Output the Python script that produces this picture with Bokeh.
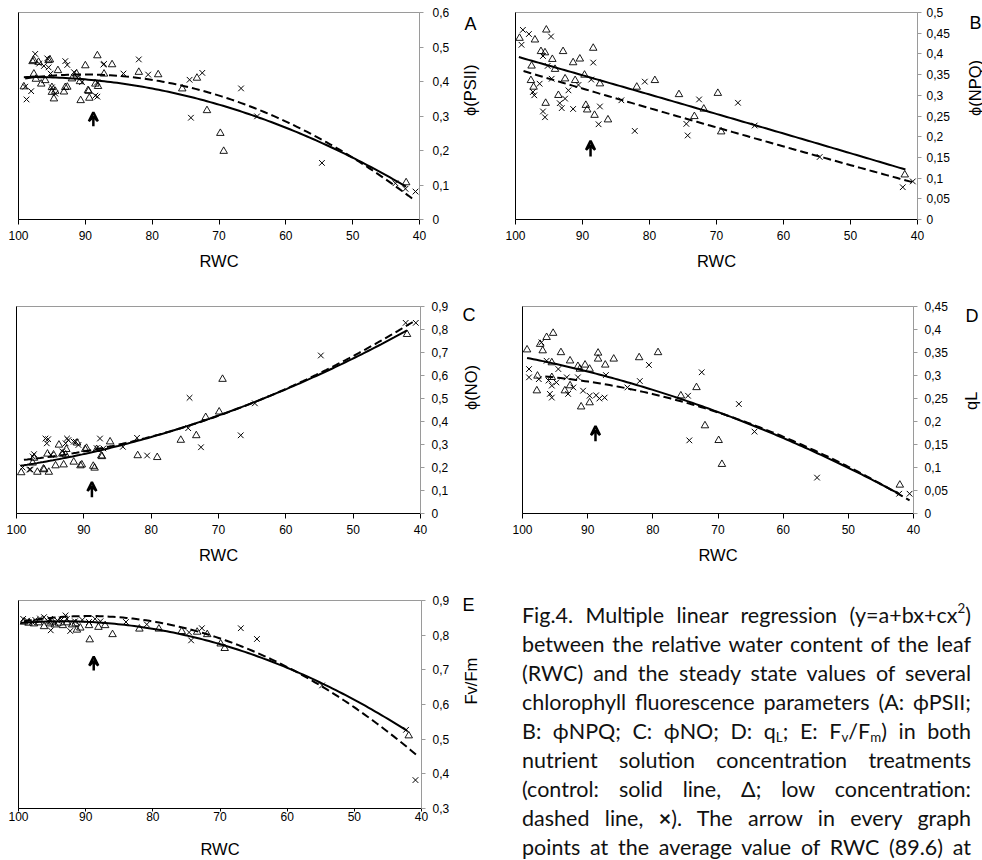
import numpy as np
from bokeh.plotting import figure
from bokeh.models import (Range1d, LinearAxis, FixedTicker, CustomJSTickFormatter,
                          Arrow, VeeHead, Div)
from bokeh.layouts import row, column
from bokeh.embed import file_html
from bokeh.resources import INLINE

# ---------------- data ----------------
rwc_ticks = [100, 90, 80, 70, 60, 50, 40]
arrow_rwc = 88.8

# Panel A: phi(PSII)
a_ctrl_rwc = [99.2, 97.9, 97.7, 97.7, 97.4, 97.0, 96.6, 96.0, 95.5, 95.3, 95.0, 95.0, 94.7, 94.5, 94.1,
              93.2, 93.0, 92.7, 92.0, 91.3, 90.8, 90.7, 90.0, 89.6, 89.5, 89.4, 88.5, 88.2, 88.1, 87.2,
              86.0, 82.0, 79.1, 75.5, 73.3, 71.8, 69.8, 69.3, 42.0]
a_ctrl_val = [0.385, 0.458, 0.461, 0.422, 0.407, 0.456, 0.393, 0.403, 0.461, 0.463, 0.369, 0.383, 0.350,
              0.372, 0.432, 0.370, 0.383, 0.384, 0.408, 0.422, 0.400, 0.345, 0.446, 0.374, 0.372, 0.352,
              0.393, 0.475, 0.386, 0.422, 0.449, 0.427, 0.420, 0.379, 0.410, 0.316, 0.250, 0.198, 0.107]
a_low_rwc = [99.0, 98.8, 98.1, 97.5, 96.9, 96.2, 95.7, 95.5, 95.2, 95.0, 94.5, 93.0, 92.7, 91.7, 91.2,
             90.5, 88.5, 88.2, 88.2, 87.3, 87.2, 84.3, 82.0, 80.6, 74.4, 74.2, 72.5, 66.7, 64.3, 54.6,
             43.6, 42.1, 40.6]
a_low_val = [0.385, 0.348, 0.372, 0.480, 0.452, 0.445, 0.467, 0.441, 0.423, 0.383, 0.365, 0.459, 0.448,
             0.427, 0.412, 0.398, 0.359, 0.356, 0.398, 0.449, 0.451, 0.423, 0.464, 0.420, 0.405, 0.295,
             0.425, 0.380, 0.299, 0.164, 0.105, 0.089, 0.081]
a_ctrl_fit_rwc = [99.2, 88, 80, 64.3, 54.6, 42]
a_ctrl_fit_val = [0.414, 0.400, 0.380, 0.297, 0.224, 0.094]
a_low_fit_rwc = [99, 87, 80, 70, 60, 50, 40.7]
a_low_fit_val = [0.406, 0.422, 0.408, 0.360, 0.277, 0.180, 0.057]
a_ticks = [0, 0.1, 0.2, 0.3, 0.4, 0.5, 0.6]

# Panel B: phi(NPQ)
b_ctrl_rwc = [99.4, 97.1, 95.4, 96.2, 95.6, 94.5, 92.9, 91.4, 90.4, 88.4, 97.6, 97.7, 97.3, 94.1, 93.6,
              92.6, 91.1, 89.7, 89.5, 89.3, 95.5, 87.4, 88.2, 86.2, 81.9, 79.2, 75.6, 73.3, 71.9, 69.8,
              69.3, 41.9]
b_ctrl_val = [0.438, 0.434, 0.458, 0.406, 0.403, 0.387, 0.406, 0.379, 0.388, 0.414, 0.371, 0.336, 0.320,
              0.363, 0.300, 0.340, 0.336, 0.349, 0.276, 0.265, 0.281, 0.328, 0.252, 0.241, 0.320, 0.336,
              0.302, 0.249, 0.267, 0.305, 0.212, 0.108]
b_low_rwc = [98.9, 98.0, 99.1, 94.7, 95.9, 95.2, 94.6, 96.4, 97.4, 97.2, 95.9, 95.6, 93.4, 93.1, 92.6,
             92.1, 91.4, 90.6, 88.7, 88.4, 87.4, 87.6, 84.2, 82.2, 80.7, 74.5, 74.3, 72.6, 66.8, 64.3,
             54.6, 42.2, 40.7]
b_low_val = [0.458, 0.448, 0.422, 0.442, 0.395, 0.371, 0.340, 0.328, 0.308, 0.300, 0.261, 0.247, 0.281,
             0.269, 0.292, 0.312, 0.267, 0.325, 0.338, 0.379, 0.273, 0.230, 0.288, 0.214, 0.333, 0.231,
             0.203, 0.290, 0.282, 0.227, 0.151, 0.078, 0.092]
b_ctrl_fit_rwc = [99.5, 80, 64.3, 41.8]
b_ctrl_fit_val = [0.392, 0.303, 0.227, 0.121]
b_low_fit_rwc = [98.8, 83.9, 64.3, 54.6, 40.7]
b_low_fit_val = [0.359, 0.286, 0.198, 0.151, 0.090]
b_ticks = [0, 0.05, 0.1, 0.15, 0.2, 0.25, 0.3, 0.35, 0.4, 0.45, 0.5]

# Panel C: phi(NO)
c_ctrl_rwc = [99.3, 97.6, 97.4, 96.9, 96.0, 95.9, 95.4, 95.2, 94.5, 94.2, 93.7, 93.2, 93.0, 92.7, 92.6,
              91.5, 91.0, 90.5, 90.3, 89.8, 89.6, 88.6, 88.4, 88.1, 87.4, 87.3, 86.1, 82.0, 79.1, 75.6,
              73.3, 71.9, 69.9, 69.4, 42.0]
c_ctrl_val = [0.178, 0.220, 0.241, 0.180, 0.194, 0.191, 0.259, 0.180, 0.255, 0.208, 0.298, 0.259, 0.212,
              0.255, 0.279, 0.224, 0.307, 0.208, 0.212, 0.279, 0.284, 0.206, 0.198, 0.279, 0.251, 0.248,
              0.312, 0.252, 0.244, 0.319, 0.339, 0.418, 0.442, 0.584, 0.779]
c_low_rwc = [99.1, 98.1, 97.9, 97.6, 97.4, 95.7, 95.5, 95.3, 94.9, 93.2, 92.7, 92.5, 92.3, 91.5, 91.2,
             90.8, 88.1, 87.6, 87.1, 84.2, 82.1, 80.6, 74.5, 74.3, 72.6, 66.7, 64.6, 54.8, 42.2, 40.7]
c_low_val = [0.200, 0.191, 0.191, 0.248, 0.258, 0.326, 0.305, 0.323, 0.255, 0.270, 0.305, 0.326, 0.319,
             0.312, 0.312, 0.298, 0.284, 0.326, 0.283, 0.290, 0.329, 0.252, 0.371, 0.503, 0.288, 0.340,
             0.479, 0.687, 0.829, 0.829]
c_ctrl_fit_rwc = [99.4, 90, 80, 70, 60, 50, 42]
c_ctrl_fit_val = [0.206, 0.262, 0.330, 0.428, 0.539, 0.673, 0.797]
c_low_fit_rwc = [98.9, 90, 80, 70, 60, 50, 40.9]
c_low_fit_val = [0.232, 0.272, 0.333, 0.428, 0.541, 0.680, 0.840]
c_ticks = [0, 0.1, 0.2, 0.3, 0.4, 0.5, 0.6, 0.7, 0.8, 0.9]

# Panel D: qL
d_ctrl_rwc = [99.3, 96.3, 95.3, 97.3, 96.9, 94.1, 97.8, 95.5, 92.7, 91.5, 90.4, 89.7, 88.4, 88.4, 87.3,
              86.0, 82.1, 79.2, 91.0, 89.7, 95.5, 93.5, 92.7, 91.2, 97.7, 75.7, 73.3, 72.0, 69.9, 69.4,
              42.1]
d_ctrl_val = [0.356, 0.383, 0.392, 0.368, 0.354, 0.350, 0.267, 0.328, 0.332, 0.320, 0.323, 0.314, 0.349,
              0.336, 0.323, 0.336, 0.339, 0.350, 0.232, 0.241, 0.296, 0.267, 0.278, 0.314, 0.299, 0.256,
              0.274, 0.191, 0.159, 0.107, 0.062]
d_low_rwc = [99.0, 99.0, 97.5, 97.1, 96.3, 96.0, 95.5, 95.8, 95.5, 94.8, 94.5, 93.2, 93.0, 92.2, 91.5,
             90.7, 89.7, 88.7, 88.2, 87.4, 87.2, 83.9, 82.0, 80.6, 74.6, 74.4, 72.5, 66.8, 64.4, 54.8,
             42.2, 40.6]
d_low_val = [0.314, 0.296, 0.292, 0.372, 0.332, 0.289, 0.278, 0.260, 0.252, 0.285, 0.314, 0.296, 0.260,
             0.274, 0.296, 0.267, 0.256, 0.257, 0.250, 0.252, 0.301, 0.274, 0.288, 0.323, 0.256, 0.159,
             0.307, 0.238, 0.178, 0.078, 0.043, 0.043]
d_ctrl_fit_rwc = [99.3, 90, 80, 70, 60, 50, 42.2]
d_ctrl_fit_val = [0.337, 0.310, 0.270, 0.220, 0.162, 0.100, 0.043]
d_low_fit_rwc = [96.5, 90, 80, 70, 60, 50, 40.6]
d_low_fit_val = [0.297, 0.288, 0.259, 0.222, 0.163, 0.104, 0.028]
d_ticks = [0, 0.05, 0.1, 0.15, 0.2, 0.25, 0.3, 0.35, 0.4, 0.45]

# Panel E: Fv/Fm
e_ctrl_rwc = [99.2, 98.5, 97.7, 97.0, 96.2, 95.3, 95.0, 94.6, 94.0, 93.4, 92.8, 92.0, 91.5, 91.3, 90.8,
              89.5, 89.4, 88.1, 87.1, 86.0, 82.0, 79.1, 75.7, 73.4, 71.9, 69.9, 69.3, 41.9]
e_ctrl_val = [0.838, 0.835, 0.833, 0.836, 0.825, 0.833, 0.838, 0.830, 0.835, 0.828, 0.836, 0.830, 0.833,
              0.815, 0.821, 0.828, 0.787, 0.823, 0.828, 0.802, 0.818, 0.818, 0.811, 0.809, 0.802, 0.775,
              0.762, 0.510]
e_low_rwc = [99.3, 98.7, 98.0, 97.5, 96.8, 96.2, 95.6, 95.3, 95.2, 94.2, 93.6, 93.0, 92.8, 92.3, 91.6,
             90.5, 89.5, 88.6, 87.8, 84.0, 80.9, 74.6, 74.3, 72.7, 66.9, 64.5, 54.8, 42.3, 40.9]
e_low_val = [0.847, 0.842, 0.838, 0.844, 0.848, 0.852, 0.840, 0.847, 0.814, 0.842, 0.845, 0.857, 0.847,
             0.812, 0.840, 0.844, 0.838, 0.847, 0.840, 0.838, 0.831, 0.808, 0.785, 0.820, 0.820, 0.789,
             0.655, 0.527, 0.382]
e_ctrl_fit_rwc = [99.7, 90, 80, 70, 60, 50, 42.1]
e_ctrl_fit_val = [0.838, 0.835, 0.818, 0.770, 0.712, 0.616, 0.520]
e_low_fit_rwc = [99.2, 85, 80, 70, 60, 50, 40.7]
e_low_fit_val = [0.842, 0.847, 0.840, 0.790, 0.712, 0.592, 0.452]
e_ticks = [0.3, 0.4, 0.5, 0.6, 0.7, 0.8, 0.9]

caption_lines = [
    "Fig.4. Multiple linear regression (y=a+bx+cx<sup>2</sup>)",
    "between the relative water content of the leaf",
    "(RWC) and the steady state values of several",
    "chlorophyll fluorescence parameters (A: \u03d5PSII;",
    "B: \u03d5NPQ; C: \u03d5NO; D: q<sub>L</sub>; E: F<sub>v</sub>/F<sub>m</sub>) in both",
    "nutrient solution concentration treatments",
    "(control: solid line, \u0394; low concentration:",
    "dashed line, <b>\u00d7</b>). The arrow in every graph",
    "points at the average value of RWC (89.6) at",
]

# ---------------- drawing ----------------
FONT = "Liberation Sans"
fmt = CustomJSTickFormatter(code="return (Math.round(tick*100)/100).toString().replace('.', ',');")


def text_axis(tick, text, standoff, size, orientation):
    """A line-less right axis carrying one labelled tick (used for titles / panel letters)."""
    f = CustomJSTickFormatter(args=dict(t=text), code="return t;")
    return LinearAxis(ticker=FixedTicker(ticks=[tick]), formatter=f,
                      axis_line_color=None, major_tick_line_color=None, minor_tick_line_color=None,
                      major_tick_out=0, major_tick_in=0, major_label_standoff=standoff,
                      major_label_text_font=FONT, major_label_text_font_size=size,
                      major_label_text_color="black", major_label_orientation=orientation)


def panel(cfg):
    p = figure(width=cfg["w"], height=cfg["h"],
               x_range=Range1d(100, 40), y_range=Range1d(*cfg["yr"]),
               output_backend="svg", toolbar_location=None,
               x_axis_location="below", y_axis_location="right",
               min_border_left=cfg["bl"], min_border_right=cfg["br"],
               min_border_top=cfg["bt"], min_border_bottom=cfg["bb"])
    p.grid.visible = False
    p.outline_line_color = "#9a9a9a"
    p.outline_line_width = 1
    p.background_fill_color = "white"
    p.border_fill_color = "white"

    # bottom axis
    xa = p.xaxis[0]
    xa.ticker = FixedTicker(ticks=rwc_ticks)
    xa.axis_label = "RWC"
    xa.axis_label_text_font = FONT
    xa.axis_label_text_font_size = "16.5px"
    xa.axis_label_text_font_style = "normal"
    xa.axis_label_text_color = "black"
    xa.axis_label_standoff = cfg["xls"]
    xa.major_label_text_font = FONT
    xa.major_label_text_font_size = "12px"
    xa.major_label_text_color = "black"
    xa.major_label_standoff = cfg["xms"]
    xa.major_tick_out = cfg["xto"]
    xa.major_tick_in = 0
    xa.minor_tick_line_color = None
    xa.axis_line_color = "black"
    xa.major_tick_line_color = "black"

    # right value axis (ticks + labels)
    ya = p.yaxis[0]
    ya.ticker = FixedTicker(ticks=cfg["yt"])
    ya.formatter = fmt
    ya.major_label_text_font = FONT
    ya.major_label_text_font_size = "12px"
    ya.major_label_text_color = "black"
    ya.major_label_standoff = cfg["yms"]
    ya.major_tick_out = 4
    ya.major_tick_in = 0
    ya.minor_tick_line_color = None
    ya.axis_line_color = "#9a9a9a"
    ya.major_tick_line_color = "#9a9a9a"

    # y title (reads bottom-to-top) and panel letter
    y0, y1 = cfg["yr"]
    p.add_layout(text_axis((y0 + y1) / 2, cfg["ylab"], cfg["yls"], "16.5px", np.pi / 2), "right")
    p.add_layout(text_axis(cfg["let_y"], cfg["letter"], cfg["lets"], "18px", "horizontal"), "right")

    # left frame line (black)
    la = LinearAxis(ticker=FixedTicker(ticks=[]), major_tick_out=0, major_tick_in=0,
                    minor_tick_line_color=None, major_label_text_font_size="0px",
                    axis_line_color="black")
    p.add_layout(la, "left")

    # fitted curves (quadratic regression y=a+bx+cx^2)
    for fx, fy, dash in ((cfg["cfx"], cfg["cfy"], "solid"), (cfg["lfx"], cfg["lfy"], "8 4")):
        coef = np.polyfit(fx, fy, 2)
        xs = np.linspace(max(fx), min(fx), 120)
        p.line(xs, np.polyval(coef, xs), line_color="black", line_width=2, line_dash=dash)

    p.scatter(cfg["cx"], cfg["cy"], marker="triangle", size=7.5, fill_color=None,
              line_color="black", line_width=0.9)
    p.scatter(cfg["lx"], cfg["ly"], marker="x", size=8, line_color="black", line_width=1)

    p.add_layout(Arrow(end=VeeHead(size=9, line_width=2.5, line_color="black", fill_color=None),
                       x_start=arrow_rwc, y_start=cfg["arr"][0], x_end=arrow_rwc, y_end=cfg["arr"][1],
                       line_width=2.5, line_color="black"))
    return p


pA = panel(dict(w=491, h=290, yr=(0, 0.6), bl=18, br=72, bt=12, bb=71, yt=a_ticks, ylab="\u03d5(PSII)",
                xls=9, xms=6, xto=5, yls=17, yms=9,
                cx=a_ctrl_rwc, cy=a_ctrl_val, lx=a_low_rwc, ly=a_low_val,
                cfx=a_ctrl_fit_rwc, cfy=a_ctrl_fit_val, lfx=a_low_fit_rwc, lfy=a_low_fit_val,
                arr=(0.27, 0.311), let_y=0.568, lets=-26, letter="A"))
# right-column panels reach a little past the window edge (the page clips them there)
pB = panel(dict(w=504, h=290, yr=(0, 0.5), bl=24, br=77, bt=12, bb=66, yt=b_ticks, ylab="\u03d5(NPQ)",
                xls=9, xms=6, xto=5, yls=22, yms=5,
                cx=b_ctrl_rwc, cy=b_ctrl_val, lx=b_low_rwc, ly=b_low_val,
                cfx=b_ctrl_fit_rwc, cfy=b_ctrl_fit_val, lfx=b_low_fit_rwc, lfy=b_low_fit_val,
                arr=(0.152, 0.19), let_y=0.474, lets=-26, letter="B"))
pC = panel(dict(w=491, h=290, yr=(0, 0.9), bl=16, br=67, bt=15, bb=63, yt=c_ticks, ylab="\u03d5(NO)",
                xls=9, xms=6, xto=5, yls=19, yms=7,
                cx=c_ctrl_rwc, cy=c_ctrl_val, lx=c_low_rwc, ly=c_low_val,
                cfx=c_ctrl_fit_rwc, cfy=c_ctrl_fit_val, lfx=c_low_fit_rwc, lfy=c_low_fit_val,
                arr=(0.071, 0.137), let_y=0.862, lets=-29, letter="C"))
pD = panel(dict(w=500, h=290, yr=(0, 0.45), bl=31, br=74, bt=16, bb=67, yt=d_ticks, ylab="qL",
                xls=9, xms=6, xto=5, yls=20, yms=7,
                cx=d_ctrl_rwc, cy=d_ctrl_val, lx=d_low_rwc, ly=d_low_val,
                cfx=d_ctrl_fit_rwc, cfy=d_ctrl_fit_val, lfx=d_low_fit_rwc, lfy=d_low_fit_val,
                arr=(0.157, 0.19), let_y=0.43, lets=-26, letter="D"))
pE = panel(dict(w=491, h=280, yr=(0.3, 0.9), bl=18, br=70, bt=20, bb=52, yt=e_ticks, ylab="Fv/Fm",
                xls=16, xms=0, xto=3, yls=18, yms=7,
                cx=e_ctrl_rwc, cy=e_ctrl_val, lx=e_low_rwc, ly=e_low_val,
                cfx=e_ctrl_fit_rwc, cfy=e_ctrl_fit_val, lfx=e_low_fit_rwc, lfy=e_low_fit_val,
                arr=(0.698, 0.738), let_y=0.886, lets=-29, letter="E"))

line_html = "".join(
    '<div style="height:29px;line-height:29px;white-space:nowrap;text-align:justify;'
    'text-align-last:justify;">' + ln + '</div>' for ln in caption_lines)
caption_html = (
    '<style>sup,sub{font-size:0.62em;line-height:0;} sup{vertical-align:0.75em;} sub{vertical-align:-0.25em;}</style>'
    '<div style="margin-left:31px;width:449px;padding-top:21px;font-family:Lato,\'Open Sans\',sans-serif;'
    'font-size:21.5px;color:#111;">' + line_html + '</div>')
caption = Div(text=caption_html, width=491, height=280, margin=0)

layout = column(row(pA, pB, spacing=0), row(pC, pD, spacing=0), row(pE, caption, spacing=0), spacing=0)

html = file_html(layout, INLINE)
html = html.replace("</head>", "<style>html, body { overflow: hidden; }</style></head>", 1)
open("out.html", "w").write(html)
